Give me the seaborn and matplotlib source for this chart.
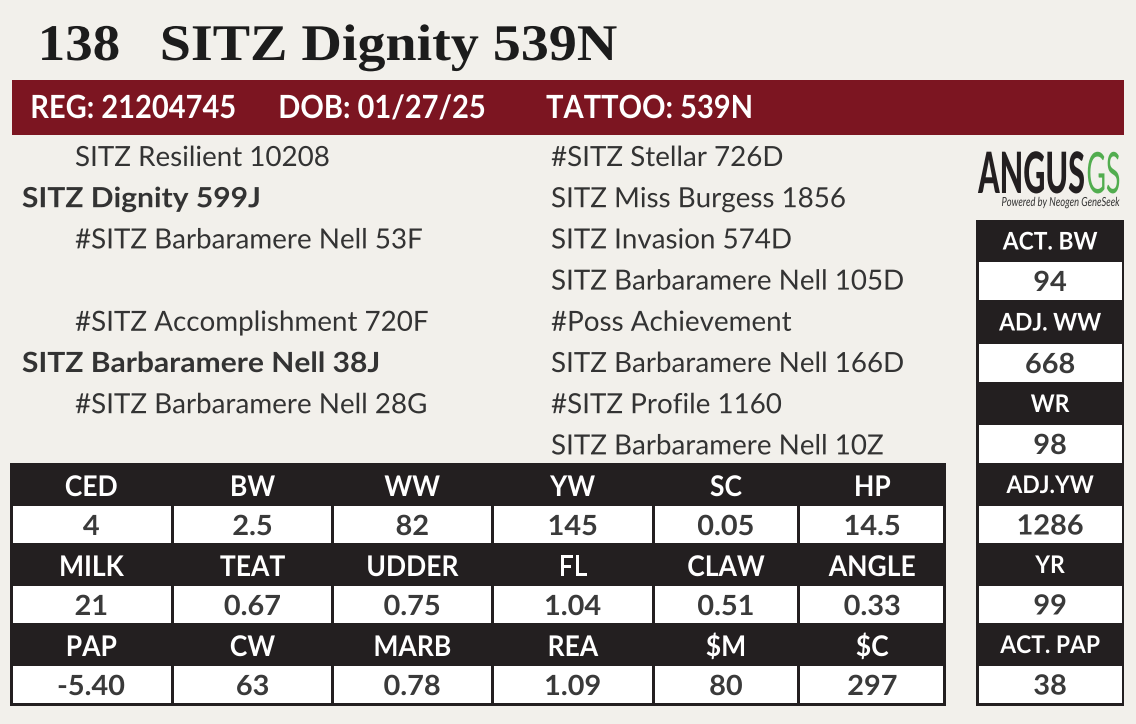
import seaborn as sns
import matplotlib.pyplot as plt
from matplotlib.patches import Rectangle
from matplotlib import patheffects
from matplotlib.transforms import Affine2D

# ---- card data ----
lot_no = '138'
animal_name = 'SITZ Dignity 539N'
id_labels = ['REG: 21204745', 'DOB: 01/27/25', 'TATTOO: 539N']

ped_left = ['SITZ Resilient 10208', 'SITZ Dignity 599J', '#SITZ Barbaramere Nell 53F', '',
            '#SITZ Accomplishment 720F', 'SITZ Barbaramere Nell 38J', '#SITZ Barbaramere Nell 28G', '']
ped_left_bold = [False, True, False, False, False, True, False, False]
ped_right = ['#SITZ Stellar 726D', 'SITZ Miss Burgess 1856', 'SITZ Invasion 574D',
             'SITZ Barbaramere Nell 105D', '#Poss Achievement', 'SITZ Barbaramere Nell 166D',
             '#SITZ Profile 1160', 'SITZ Barbaramere Nell 10Z']

epd_traits = [['CED', 'BW', 'WW', 'YW', 'SC', 'HP'],
              ['MILK', 'TEAT', 'UDDER', 'FL', 'CLAW', 'ANGLE'],
              ['PAP', 'CW', 'MARB', 'REA', '$M', '$C']]
epd_values = [['4', '2.5', '82', '145', '0.05', '14.5'],
              ['21', '0.67', '0.75', '1.04', '0.51', '0.33'],
              ['-5.40', '63', '0.78', '1.09', '80', '297']]

perf_traits = ['ACT. BW', 'ADJ. WW', 'WR', 'ADJ.YW', 'YR', 'ACT. PAP']
perf_values = ['94', '668', '98', '1286', '99', '38']

# ---- look ----
BG = '#f2f0eb'
RED = '#7c1521'
INK = '#231f20'
GREY = '#3a3a3a'
GREEN = '#52ad4f'


class Stretch(patheffects.AbstractPathEffect):
    """scale glyphs about the text baseline (card uses condensed fonts)"""
    def __init__(self, sx=1.0, sy=1.0, anchor='center'):
        super().__init__()
        self.sx, self.sy, self.anchor = sx, sy, anchor

    def draw_path(self, renderer, gc, tpath, affine, rgbFace=None):
        ext = tpath.get_extents(affine)
        ax0 = {'left': ext.x0, 'right': ext.x1, 'center': (ext.x0 + ext.x1) / 2}[self.anchor]
        ay0 = affine.transform((0, 0))[1]
        t = affine + Affine2D().translate(-ax0, -ay0).scale(self.sx, self.sy).translate(ax0, ay0)
        renderer.draw_path(gc, tpath, t, rgbFace)


sns.set_theme(style='white')
plt.rcParams['font.family'] = ['Lato', 'DejaVu Sans']
plt.rcParams['text.parse_math'] = False

fig = plt.figure(figsize=(11.36, 7.24), dpi=100)
fig.patch.set_facecolor(BG)
ax = fig.add_axes([0, 0, 1, 1])
ax.set_xlim(0, 1136)
ax.set_ylim(724, 0)
ax.axis('off')
rend = fig.canvas.get_renderer()

# title
serif = ['Liberation Serif', 'DejaVu Serif']
ax.text(38, 60, lot_no, family=serif, weight='bold', fontsize=37, color='#1c1c1c',
        va='baseline', path_effects=[Stretch(1.07, anchor='left')])
ax.text(160, 60, animal_name, family=serif, weight='bold', fontsize=37, color='#1c1c1c',
        va='baseline', path_effects=[Stretch(1.09, anchor='left')])

# red id band
ax.add_patch(Rectangle((12, 80), 1112, 55, color=RED, lw=0))
for lab, x in zip(id_labels, [30, 278, 546]):
    ax.text(x, 118, lab, color='white', weight='bold', fontsize=23, va='baseline',
            path_effects=[Stretch(0.91, anchor='left')])

# pedigree
for i, (l, b, r) in enumerate(zip(ped_left, ped_left_bold, ped_right)):
    y = 166 + 41.2 * i
    if l:
        ax.text(22 if b else 75, y, l, color='#333333', fontsize=20, va='baseline',
                weight='bold' if b else 'normal',
                path_effects=[Stretch(1.08 if b else 1.0, anchor='left')])
    ax.text(551, y, r, color='#333333', fontsize=20, va='baseline',
            path_effects=[Stretch(1.0, anchor='left')])

# epd table
col_edges = [10, 172.5, 332.5, 492, 653.5, 798.5, 946]
ax.add_patch(Rectangle((10, 463), 936, 243, color=INK, lw=0))
for r in range(3):
    top = 463 + 80 * r
    for c in range(6):
        x0 = col_edges[c] + (3 if c == 0 else 1.5)
        x1 = col_edges[c + 1] - (3 if c == 5 else 1.5)
        ax.add_patch(Rectangle((x0, top + 43), x1 - x0, 37, color='white', lw=0))
        xc = (col_edges[c] + col_edges[c + 1]) / 2
        ax.text(xc, top + 33, epd_traits[r][c], color='white', weight='bold', fontsize=20.5,
                ha='center', va='baseline', path_effects=[Stretch(0.93)])
        ax.text(xc, top + 72, epd_values[r][c], color=GREY, weight='bold', fontsize=20,
                ha='center', va='baseline', path_effects=[Stretch(1.04)])

# performance column
hdr_top = [220, 300, 382, 463, 543, 623]
val_box = [(262, 300), (344, 382), (425, 463), (506, 543), (586, 623), (666, 703)]
ax.add_patch(Rectangle((976, 220), 148, 486, color=INK, lw=0))
for lab, val, ht, (v0, v1) in zip(perf_traits, perf_values, hdr_top, val_box):
    ax.add_patch(Rectangle((979, v0), 143, v1 - v0, color='white', lw=0))
    ax.text(1050, (ht + v0) / 2 + 8.5, lab, color='white', weight='bold', fontsize=17.5,
            ha='center', va='baseline', path_effects=[Stretch(0.94)])
    ax.text(1050, (v0 + v1) / 2 + 10, val, color=GREY, weight='bold', fontsize=20,
            ha='center', va='baseline', path_effects=[Stretch(1.04)])

# angus gs logo: size text to the logo width, then stretch it up to the logo height
logo = [('ANGUS', 1031.5, 193, 107, INK, 'black', 41, 'normal'),
        ('GS', 1103.5, 193, 34, GREEN, 'normal', 41, 'normal'),
        ('Powered by Neogen GeneSeek', 1061, 206, 118, '#333333', 'normal', 9, 'italic')]
for s, xc, yb, w, col, wt, fs, st in logo:
    t = ax.text(xc, yb, s, color=col, weight=wt, fontsize=fs, style=st,
                ha='center', va='baseline')
    f2 = fs * w / t.get_window_extent(rend).width
    t.set_fontsize(f2)
    t.set_path_effects([Stretch(1.0, fs / f2)])

fig.savefig('out.png', dpi=100, facecolor=BG)
